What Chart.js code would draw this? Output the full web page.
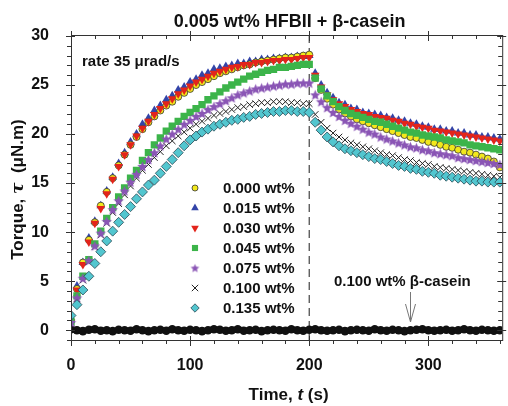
<!DOCTYPE html>
<html>
<head>
<meta charset="utf-8">
<script src="https://cdn.jsdelivr.net/npm/chart.js@4.4.0/dist/chart.umd.min.js"></script>
<style>
  html, body { margin: 0; padding: 0; background: #fff; }
  canvas { display: block; }
</style>
</head>
<body>
<canvas id="torque" width="508" height="406"></canvas>
<script>
// =========================
// DATA
// =========================
const timeSec = [0,5,10,15,20,25,30,35,40,45,50,55,60,65,70,75,80,85,90,95,
  100,105,110,115,120,125,130,135,140,145,150,155,160,165,170,175,180,185,190,195,
  200,205,210,215,220,225,230,235,240,245,250,255,260,265,270,275,280,285,290,295,
  300,305,310,315,320,325,330,335,340,345,350,355,360];

const wt000 = [0.9,4.2,6.9,9.2,11.0,12.7,14.1,15.5,16.8,17.9,18.9,19.7,20.5,21.2,21.8,22.4,22.9,23.3,23.8,24.2,
  24.6,25.0,25.3,25.6,25.9,26.2,26.4,26.6,26.8,27.0,27.1,27.3,27.4,27.5,27.6,27.7,27.8,27.8,27.9,28.0,
  28.1,25.7,24.5,23.6,23.0,22.5,22.1,21.8,21.5,21.3,21.1,20.9,20.7,20.5,20.3,20.1,19.9,19.7,19.6,19.4,
  19.2,19.1,18.9,18.7,18.6,18.4,18.2,18.1,17.9,17.7,17.5,17.2,16.6];
const wt015 = [1.0,4.5,6.9,9.4,11.1,12.7,14.2,15.6,17.0,18.1,19.2,20.0,21.0,21.6,22.4,22.9,23.5,23.9,24.5,24.8,
  25.3,25.6,26.0,26.2,26.6,26.7,26.9,27.0,27.2,27.2,27.4,27.4,27.6,27.6,27.7,27.7,27.8,27.8,27.9,27.9,
  28.0,26.2,25.0,24.2,23.7,23.2,23.0,22.6,22.5,22.2,22.1,22.0,21.9,21.7,21.6,21.4,21.3,21.1,21.0,20.8,
  20.7,20.5,20.5,20.3,20.3,20.1,20.1,19.9,19.9,19.7,19.7,19.6,19.5];
const wt030 = [0.8,4.1,6.7,9.0,10.9,12.4,13.9,15.4,16.7,17.9,18.9,19.8,20.6,21.3,22.0,22.6,23.1,23.6,24.1,24.5,
  24.9,25.3,25.6,25.9,26.2,26.4,26.6,26.8,26.9,27.1,27.1,27.3,27.3,27.4,27.5,27.5,27.6,27.6,27.7,27.8,
  27.8,26.0,24.8,24.0,23.5,23.1,22.8,22.5,22.3,22.1,22.0,21.8,21.7,21.6,21.4,21.3,21.1,21.0,20.8,20.7,
  20.6,20.4,20.3,20.2,20.1,20.0,19.9,19.8,19.7,19.6,19.5,19.4,19.3];
const wt045 = [0.9,3.5,5.5,7.2,8.8,10.1,11.4,12.5,13.6,14.5,15.5,16.3,17.3,18.1,18.9,19.6,20.3,20.8,21.3,21.8,
  22.2,22.6,23.0,23.5,23.9,24.3,24.7,25.0,25.3,25.6,25.9,26.1,26.3,26.5,26.6,26.8,26.8,26.9,27.0,27.1,
  27.1,25.7,24.6,23.9,23.3,22.8,22.4,22.1,21.9,21.7,21.5,21.3,21.2,21.0,20.8,20.6,20.4,20.2,20.1,19.9,
  19.8,19.7,19.6,19.4,19.3,19.2,19.1,18.9,18.8,18.7,18.6,18.5,18.4];
const wt075 = [0.8,3.3,5.3,7.1,8.6,9.9,11.1,12.3,13.2,14.2,15.1,15.9,16.7,17.4,18.1,18.8,19.5,20.0,20.5,21.0,
  21.4,21.8,22.1,22.5,22.8,23.1,23.4,23.7,24.0,24.2,24.4,24.6,24.7,24.8,24.9,25.0,25.1,25.1,25.2,25.2,
  25.2,24.0,23.3,22.7,22.2,21.8,21.4,21.1,20.8,20.5,20.2,20.0,19.7,19.5,19.3,19.1,18.9,18.7,18.6,18.4,
  18.3,18.1,18.0,17.9,17.8,17.6,17.5,17.4,17.3,17.2,17.1,17.0,16.9];
const wt100 = [0.8,3.2,5.1,7.0,8.5,9.7,10.9,12.0,12.9,13.8,14.7,15.5,16.3,16.9,17.6,18.2,18.8,19.3,19.8,20.2,
  20.6,21.0,21.3,21.6,21.9,22.1,22.3,22.5,22.7,22.8,23.0,23.1,23.2,23.2,23.3,23.3,23.3,23.2,23.2,23.1,
  23.1,22.0,21.2,20.6,20.1,19.7,19.4,19.1,18.9,18.7,18.5,18.3,18.1,17.9,17.8,17.6,17.4,17.3,17.1,17.0,
  16.9,16.7,16.6,16.5,16.4,16.3,16.2,16.1,16.0,15.9,15.8,15.7,15.6];
const wt135 = [1.5,2.6,4.1,5.5,6.8,8.0,9.1,10.1,11.0,11.8,12.6,13.4,14.1,14.8,15.3,16.0,16.7,17.4,18.1,18.8,
  19.4,19.8,20.2,20.5,20.8,21.0,21.2,21.4,21.5,21.7,21.8,22.0,22.1,22.2,22.3,22.3,22.4,22.4,22.3,22.3,
  22.2,21.2,20.4,19.7,19.2,18.8,18.5,18.3,18.1,17.9,17.7,17.5,17.4,17.2,17.0,16.8,16.7,16.5,16.4,16.2,
  16.1,16.0,15.8,15.7,15.6,15.5,15.4,15.3,15.2,15.2,15.1,15.1,15.1];
// 0.100 wt% beta-casein alone
const caseinOnly = [0.1,0.0,-0.1,0.05,0.1,-0.05,0.0,-0.1,0.05,0.0,
  -0.05,0.1,0.0,-0.1,0.0,0.05,-0.05,0.1,0.0,-0.05,
  0.05,0.0,-0.1,0.0,0.1,0.05,-0.05,0.0,0.1,-0.05,
  0.0,0.05,-0.1,0.0,0.05,0.0,-0.05,0.1,0.0,-0.05,
  0.05,0.1,0.0,-0.05,0.0,0.05,-0.1,0.0,0.05,0.0,
  -0.05,0.1,0.0,-0.05,0.05,0.0,-0.1,0.0,0.05,0.1,
  0.0,-0.05,0.0,0.05,-0.05,0.0,0.1,0.0,-0.05,0.05,
  0.0,-0.05,0.0];

const legendLabels = ['0.000 wt%','0.015 wt%','0.030 wt%','0.045 wt%','0.075 wt%','0.100 wt%','0.135 wt%'];
const xTicks = [0, 100, 200, 300];
const yTicks = [0, 5, 10, 15, 20, 25, 30];

// =========================
// MARKERS
// =========================
function makeStar(r, fill) {
    const c = document.createElement('canvas');
    const s = Math.ceil(r * 2 + 2);
    c.width = s; c.height = s;
    const g = c.getContext('2d');
    g.translate(s / 2, s / 2 + 0.5);
    g.beginPath();
    for (let i = 0; i < 10; i++) {
        const rad = i % 2 ? r * 0.45 : r;
        const a = -Math.PI / 2 + i * Math.PI / 5;
        g.lineTo(rad * Math.cos(a), rad * Math.sin(a));
    }
    g.closePath();
    g.fillStyle = fill;
    g.fill();
    return c;
}
const starImg = makeStar(5.5, '#8a55b5');
const starSmall = makeStar(4.5, '#8a55b5');

// legend marker sizes (px) kept apart from the plotted ones
const styles = [
    { data: wt000, pointStyle: 'circle',   radius: 3.5, lr: 3,   rotation: 0,   bg: '#f2e81c', border: '#333', bw: 0.8, order: 6 },
    { data: wt015, pointStyle: 'triangle', radius: 5,   lr: 4.4, rotation: 0,   bg: '#3344a8', border: '#3344a8', bw: 0, order: 7 },
    { data: wt030, pointStyle: 'triangle', radius: 5,   lr: 4.4, rotation: 180, bg: '#e3241b', border: '#e3241b', bw: 0, order: 5 },
    { data: wt045, pointStyle: 'rect',     radius: 5.2, lr: 3.6, rotation: 0,   bg: '#3cb44a', border: '#3cb44a', bw: 0, order: 3 },
    { data: wt075, pointStyle: starImg,    radius: 5.5, lr: 4.5, rotation: 0,   bg: '#8a55b5', border: '#8a55b5', bw: 0, order: 2 },
    { data: wt100, pointStyle: 'crossRot', radius: 4.6, lr: 4,   rotation: 0,   bg: '#222', border: '#222', bw: 1, order: 4 },
    { data: wt135, pointStyle: 'rectRot',  radius: 5,   lr: 4.2, rotation: 0,   bg: '#52c6cf', border: '#2a4a55', bw: 0.8, order: 1 }
];

const datasets = styles.map((s, i) => ({
    label: legendLabels[i],
    data: timeSec.map((t, k) => ({ x: t, y: s.data[k] })),
    showLine: false,
    pointStyle: s.pointStyle,
    pointRadius: s.radius,
    pointRotation: s.rotation,
    pointBackgroundColor: s.bg,
    pointBorderColor: s.border,
    pointBorderWidth: s.bw,
    order: s.order
}));

datasets.push({
    label: '0.100 wt% β-casein',
    data: timeSec.map((t, k) => ({ x: t, y: caseinOnly[k] })),
    showLine: true,
    borderColor: '#111',
    borderWidth: 6,
    pointStyle: 'circle',
    pointRadius: 4.3,
    pointBackgroundColor: '#111',
    pointBorderColor: '#111',
    pointBorderWidth: 0,
    order: 8
});

// =========================
// DECORATION PLUGIN
// =========================
const FONT = '"Liberation Sans", Arial, Helvetica, sans-serif';

function drawMarker(g, s, x, y) {
    g.save();
    g.fillStyle = s.bg;
    g.strokeStyle = s.border;
    g.lineWidth = s.bw;
    const r = s.lr;
    if (s.pointStyle instanceof HTMLCanvasElement) {
        g.drawImage(starSmall, x - starSmall.width / 2, y - starSmall.height / 2);
    } else if (s.pointStyle === 'circle') {
        g.beginPath(); g.arc(x, y, r, 0, Math.PI * 2); g.fill(); if (s.bw) g.stroke();
    } else if (s.pointStyle === 'triangle') {
        const dir = s.rotation ? -1 : 1;
        g.beginPath();
        g.moveTo(x, y - dir * r);
        g.lineTo(x + r * 0.866, y + dir * r * 0.5);
        g.lineTo(x - r * 0.866, y + dir * r * 0.5);
        g.closePath(); g.fill();
    } else if (s.pointStyle === 'rect') {
        const h = r * 0.85;
        g.fillRect(x - h, y - h, h * 2, h * 2);
    } else if (s.pointStyle === 'crossRot') {
        const h = r * 0.8;
        g.beginPath();
        g.moveTo(x - h, y - h); g.lineTo(x + h, y + h);
        g.moveTo(x + h, y - h); g.lineTo(x - h, y + h);
        g.stroke();
    } else if (s.pointStyle === 'rectRot') {
        g.beginPath();
        g.moveTo(x, y - r); g.lineTo(x + r, y); g.lineTo(x, y + r); g.lineTo(x - r, y);
        g.closePath(); g.fill(); g.stroke();
    }
    g.restore();
}

function drawPieces(g, pieces, x, y, align) {
    let total = 0;
    pieces.forEach(p => { g.font = p.font; total += g.measureText(p.text).width; });
    let cx = align === 'center' ? x - total / 2 : x;
    g.textAlign = 'left';
    pieces.forEach(p => {
        g.font = p.font;
        g.fillText(p.text, cx, y);
        cx += g.measureText(p.text).width;
    });
}

const decor = {
    id: 'decor',
    beforeDatasetsDraw(chart) {
        const g = chart.ctx;
        const { top, bottom } = chart.chartArea;
        const x200 = chart.scales.x.getPixelForValue(200);
        g.save();
        g.strokeStyle = '#444';
        g.lineWidth = 1.2;
        g.setLineDash([8, 5]);
        g.beginPath();
        g.moveTo(x200, top);
        g.lineTo(x200, bottom);
        g.stroke();
        g.restore();
    },
    afterDraw(chart) {
        const g = chart.ctx;
        const xs = chart.scales.x, ys = chart.scales.y;
        const { left, right, top, bottom } = chart.chartArea;
        g.save();

        // frame
        g.strokeStyle = '#333';
        g.lineWidth = 1;
        g.strokeRect(left + 0.5, top + 0.5, right - left, bottom - top);

        // ticks
        g.beginPath();
        for (let v = 0; v <= 360; v += 20) {
            const px = Math.round(xs.getPixelForValue(v)) + 0.5;
            const major = v % 100 === 0;
            if (major) {
                g.moveTo(px, bottom - 4); g.lineTo(px, bottom + 6);
                g.moveTo(px, top - 4); g.lineTo(px, top + 6);
            } else {
                g.moveTo(px, bottom); g.lineTo(px, bottom + 4);
                g.moveTo(px, top); g.lineTo(px, top + 4);
            }
        }
        for (let v = -1; v <= 30; v += 1) {
            const py = Math.round(ys.getPixelForValue(v)) + 0.5;
            const major = v % 5 === 0;
            if (major) {
                g.moveTo(left - 5, py); g.lineTo(left + 4, py);
                g.moveTo(right - 5, py); g.lineTo(right + 4, py);
            } else {
                g.moveTo(left - 4, py); g.lineTo(left, py);
                g.moveTo(right - 4, py); g.lineTo(right, py);
            }
        }
        g.stroke();

        g.fillStyle = '#111';
        g.textBaseline = 'alphabetic';

        // title
        g.font = 'bold 18px ' + FONT;
        g.textAlign = 'center';
        g.fillText('0.005 wt% HFBII + β-casein', (left + right) / 2 + 3, 27);

        // x axis label
        const b17 = 'bold 17px ' + FONT;
        const bi17 = 'italic bold 17px ' + FONT;
        drawPieces(g, [{ text: 'Time, ', font: b17 }, { text: 't', font: bi17 }, { text: ' (s)', font: b17 }],
            (left + right) / 2 + 2, 400, 'center');

        // y axis label
        g.save();
        g.translate(23, (top + bottom) / 2 + 2);
        g.rotate(-Math.PI / 2);
        drawPieces(g, [{ text: 'Torque, ', font: b17 }, { text: 'τ', font: 'italic bold 17px "DejaVu Serif", serif' },
            { text: '  (μN.m)', font: b17 }], 0, 0, 'center');
        g.restore();

        // annotations
        g.font = 'bold 15px ' + FONT;
        g.textAlign = 'left';
        g.fillText('rate 35 μrad/s', left + 11, top + 31);
        g.fillText('0.100 wt% β-casein', 334, 286);

        // arrow
        const ax = Math.round(xs.getPixelForValue(285)) + 0.5;
        g.strokeStyle = '#777';
        g.lineWidth = 1;
        g.beginPath();
        g.moveTo(ax, 292); g.lineTo(ax, 322);
        g.moveTo(ax - 5, 304); g.lineTo(ax, 322); g.lineTo(ax + 5, 304);
        g.stroke();

        // legend
        g.font = 'bold 15px ' + FONT;
        g.textBaseline = 'middle';
        styles.forEach((s, i) => {
            const y = 188 + i * 20;
            drawMarker(g, s, 195, y);
            g.fillStyle = '#111';
            g.fillText(legendLabels[i], 223, y + 1);
        });

        g.restore();
    }
};

// =========================
// CHART
// =========================
const tickFont = { family: FONT, size: 16, weight: 'bold' };

new Chart(document.getElementById('torque'), {
    type: 'scatter',
    data: { datasets },
    options: {
        responsive: false,
        animation: false,
        events: [],
        layout: { padding: { left: 0, right: 5, top: 35, bottom: 0 } },
        plugins: { legend: { display: false }, tooltip: { enabled: false }, title: { display: false } },
        scales: {
            x: {
                type: 'linear',
                min: 0,
                max: 362,
                afterBuildTicks: s => { s.ticks = xTicks.map(v => ({ value: v })); },
                afterFit: s => { s.height = 66; },
                grid: { display: false },
                border: { display: false },
                ticks: { font: tickFont, color: '#111', padding: 8, maxRotation: 0 }
            },
            y: {
                type: 'linear',
                min: -1,
                max: 30.1,
                afterBuildTicks: s => { s.ticks = yTicks.map(v => ({ value: v })); },
                afterFit: s => { s.width = 71; },
                grid: { display: false },
                border: { display: false },
                ticks: { font: tickFont, color: '#111', padding: 14 }
            }
        }
    },
    plugins: [decor]
});
</script>
</body>
</html>
